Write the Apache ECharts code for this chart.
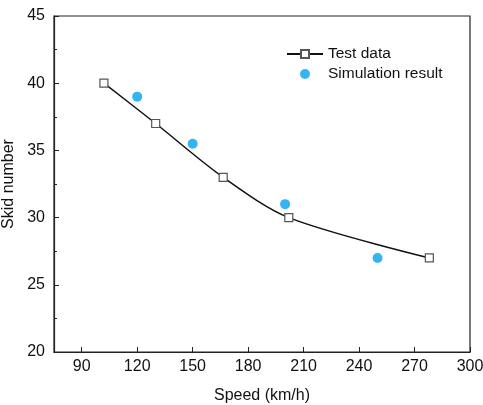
<!DOCTYPE html>
<html>
<head>
<meta charset="utf-8">
<script src="https://cdn.jsdelivr.net/npm/echarts@6/dist/echarts.min.js"></script>
<style>
  html, body { margin: 0; padding: 0; background: #fff; }
  #chart { width: 483px; height: 405px; }
</style>
</head>
<body>
<div id="chart"></div>
<script>
// measured data
var testSpeed = [102, 130, 166.5, 202, 278];
var testSkid = [40, 37, 33, 30, 27];
var simSpeed = [120, 150, 200, 250];
var simSkid = [39, 35.5, 31, 27];
var xTicks = [90, 120, 150, 180, 210, 240, 270, 300];

var testData = testSpeed.map(function (v, i) { return [v, testSkid[i]]; });
var simData = simSpeed.map(function (v, i) { return [v, simSkid[i]]; });

var font = 'Liberation Sans, Arial, sans-serif';
var myChart = echarts.init(document.getElementById('chart'));
var option = {
    backgroundColor: '#fff',
    animation: false,
    grid: {
        left: 54, right: 13, top: 16, bottom: 53,
        outerBoundsMode: 'none',
        containLabel: false,
        show: true, borderColor: '#222', borderWidth: 1.2
    },
    legend: {
        orient: 'vertical',
        left: 281, top: 41,
        itemWidth: 36, itemHeight: 10, itemGap: 4,
        textStyle: { fontFamily: font, fontSize: 15.5, color: '#111' },
        data: [
            { name: 'Test data' },
            { name: 'Simulation result', icon: 'circle' }
        ]
    },
    xAxis: {
        type: 'value',
        min: 75, max: 300,
        name: 'Speed (km/h)',
        nameLocation: 'middle',
        nameGap: 36,
        nameTextStyle: { fontFamily: font, fontSize: 16, color: '#111' },
        axisLine: { lineStyle: { color: '#222', width: 1.2 } },
        axisTick: { inside: true, length: 5, customValues: xTicks, lineStyle: { color: '#222' } },
        axisLabel: { customValues: xTicks, margin: 7, fontFamily: font, fontSize: 16, color: '#111' },
        splitLine: { show: false }
    },
    yAxis: {
        type: 'value',
        min: 20, max: 45, interval: 5,
        name: 'Skid number',
        nameLocation: 'middle',
        nameGap: 32,
        nameTextStyle: { fontFamily: font, fontSize: 16, color: '#111' },
        axisLine: { show: true, lineStyle: { color: '#222', width: 1.2 } },
        axisTick: { inside: true, length: 5, lineStyle: { color: '#222' } },
        minorTick: { show: true, splitNumber: 2, length: 3, lineStyle: { color: '#222' } },
        axisLabel: { margin: 9, fontFamily: font, fontSize: 16, color: '#111' },
        splitLine: { show: false }
    },
    series: [
        {
            name: 'Test data',
            type: 'line',
            data: testData,
            smooth: 0.3,
            symbol: 'rect',
            symbolSize: 8,
            lineStyle: { color: '#111', width: 1.5 },
            itemStyle: { color: '#fff', borderColor: '#555', borderWidth: 1.2 },
            z: 3
        },
        {
            name: 'Simulation result',
            type: 'scatter',
            data: simData,
            symbol: 'circle',
            symbolSize: 10,
            itemStyle: { color: '#00A3F2' },
            z: 4
        }
    ]
};
myChart.setOption(option);
</script>
</body>
</html>
